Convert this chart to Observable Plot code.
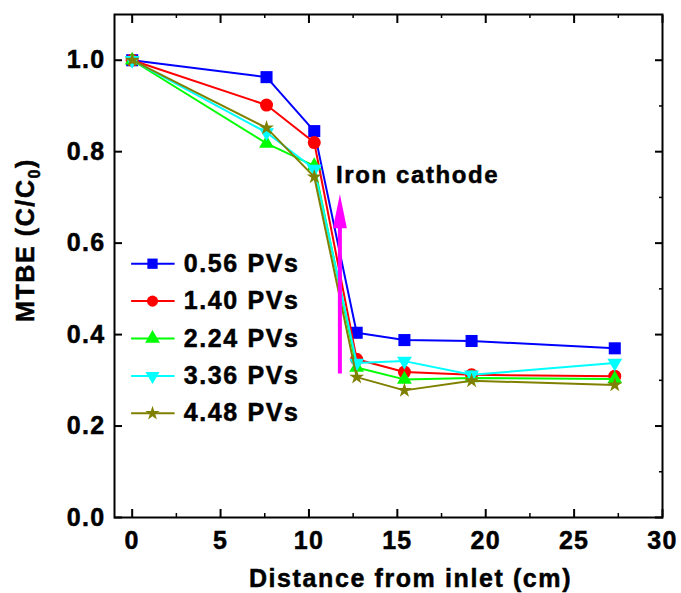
<!DOCTYPE html>
<html>
<head>
<meta charset="utf-8">
<script src="https://cdn.jsdelivr.net/npm/d3@7"></script>
<script src="https://cdn.jsdelivr.net/npm/@observablehq/plot@0.6"></script>
<style>
  html, body { margin: 0; padding: 0; background: #fff; }
  #chart svg { display: block; }
  #chart svg text { letter-spacing: 1.6px; stroke: #000; stroke-width: 0.5px; }
  #chart svg [aria-label="annotation"] text { letter-spacing: 0; }
  #chart svg [aria-label="y-axis tick label"] text,
  #chart svg [aria-label="x-axis tick label"] text { letter-spacing: 1.3px; }
</style>
</head>
<body>
<div id="chart"></div>
<script>
// ---- data ----
const distances = [0, 7.6, 10.3, 12.7, 15.4, 19.2, 27.3];
const pvLabels = ["0.56 PVs", "1.40 PVs", "2.24 PVs", "3.36 PVs", "4.48 PVs"];
const mtbe056 = [1.0, 0.963, 0.845, 0.404, 0.388, 0.386, 0.370];
const mtbe140 = [1.0, 0.902, 0.820, 0.346, 0.318, 0.312, 0.309];
const mtbe224 = [1.0, 0.818, 0.769, 0.328, 0.302, 0.305, 0.303];
const mtbe336 = [1.0, 0.842, 0.762, 0.338, 0.342, 0.312, 0.338];
const mtbe448 = [1.0, 0.852, 0.745, 0.307, 0.278, 0.299, 0.290];
const xTicks = [0, 5, 10, 15, 20, 25, 30];
const xMinorTicks = [2.5, 7.5, 12.5, 17.5, 22.5, 27.5];
const yTicks = [0, 0.2, 0.4, 0.6, 0.8, 1.0];
const yMinorTicks = [0.1, 0.3, 0.5, 0.7, 0.9];
const cathode = {label: "Iron cathode", x: 11.75, yFrom: 0.314, yTo: 0.707};

// ---- styling ----
const colors = ["#0000ff", "#ff0000", "#00ff00", "#00ffff", "#808000"];
const triangleDown = {
  draw(ctx, size) {
    const y = -Math.sqrt(size / (Math.sqrt(3) * 3));
    ctx.moveTo(0, -y * 2);
    ctx.lineTo(-Math.sqrt(3) * y, y);
    ctx.lineTo(Math.sqrt(3) * y, y);
    ctx.closePath();
  }
};
const arrowHead = {
  draw(ctx) {
    ctx.moveTo(0, 0);
    ctx.lineTo(7, 34);
    ctx.lineTo(-7, 34);
    ctx.closePath();
  }
};
const symbols = ["square", "circle", "triangle", triangleDown, "star"];
const radii = [6.8, 6.5, 5.5, 5.5, 4.7];
const legendRadii = [5.8, 5.6, 5.5, 5.2, 4.5];

const allValues = [mtbe056, mtbe140, mtbe224, mtbe336, mtbe448];
const series = pvLabels.map((label, i) => ({
  label, color: colors[i], symbol: symbols[i], r: radii[i], lr: legendRadii[i],
  rows: distances.map((x, j) => ({x, y: allValues[i][j]}))
}));

// legend layout (in data units of the plot)
const legTop = 0.555, legStep = 0.0818;
const legX1 = -0.06, legX2 = 2.4, legXm = 1.15, legXt = 2.92;

const marks = [];
series.forEach(s => {
  marks.push(Plot.line(s.rows, {x: "x", y: "y", stroke: s.color, strokeWidth: 2}));
  marks.push(Plot.dot(s.rows, {x: "x", y: "y", fill: s.color, symbol: s.symbol, r: s.r}));
});
series.forEach((s, i) => {
  const ly = legTop - i * legStep;
  marks.push(Plot.link([s], {x1: () => legX1, x2: () => legX2, y1: () => ly, y2: () => ly, stroke: s.color, strokeWidth: 2}));
  marks.push(Plot.dot([s], {x: () => legXm, y: () => ly, fill: s.color, symbol: s.symbol, r: s.lr}));
  marks.push(Plot.text([s], {x: () => legXt, y: () => ly, text: "label", textAnchor: "start", lineAnchor: "middle", fontSize: 25, fontWeight: "bold", fill: "black"}));
});

const tickOnly = {fill: "none", label: null};

const chart = Plot.plot({
  width: 681,
  height: 593,
  marginLeft: 114,
  marginRight: 19,
  marginTop: 14,
  marginBottom: 76,
  x: {domain: [-1, 30]},
  y: {domain: [0, 1.1]},
  style: {fontFamily: "'Liberation Sans', Arial, sans-serif", fontWeight: "bold", fontSize: "25px", background: "#fff", color: "black", overflow: "visible"},
  marks: [
    ...marks,
    Plot.ruleX([cathode], {x: "x", y1: "yFrom", y2: d => d.yTo - 0.03, stroke: "#ff00ff", strokeWidth: 4}),
    Plot.dot([cathode], {x: "x", y: "yTo", symbol: arrowHead, fill: "#ff00ff", r: 3}),
    Plot.text([cathode], {x: () => 11.53, y: () => 0.748, text: "label", textAnchor: "start", lineAnchor: "middle", fontSize: 24, fontWeight: "bold", fill: "black", ariaLabel: "annotation"}),
    // frame
    Plot.frame({stroke: "black", strokeWidth: 2}),
    // tick labels
    Plot.axisX({anchor: "bottom", ticks: xTicks, tickSize: 0, tickPadding: 14, tickFormat: d => String(d), label: null, fontSize: 25}),
    Plot.axisY({anchor: "left", ticks: yTicks, tickSize: 0, tickPadding: 9, tickFormat: d3.format(".1f"), label: null, fontSize: 25}),
    // inward ticks
    Plot.axisX({anchor: "bottom", ticks: xTicks, tickSize: -8, strokeWidth: 2, ...tickOnly}),
    Plot.axisX({anchor: "bottom", ticks: xMinorTicks, tickSize: -4, strokeWidth: 1.5, ...tickOnly}),
    Plot.axisX({anchor: "top", ticks: xTicks, tickSize: -8, strokeWidth: 2, ...tickOnly}),
    Plot.axisX({anchor: "top", ticks: xMinorTicks, tickSize: -3, strokeWidth: 1.5, ...tickOnly}),
    Plot.axisY({anchor: "left", ticks: yTicks, tickSize: -8, strokeWidth: 2, ...tickOnly}),
    Plot.axisY({anchor: "right", ticks: yTicks, tickSize: -8, strokeWidth: 2, ...tickOnly}),
    Plot.axisY({anchor: "right", ticks: yMinorTicks, tickSize: -4, strokeWidth: 1.5, ...tickOnly}),
    // x title
    Plot.text(["Distance from inlet (cm)"], {frameAnchor: "bottom", dx: 22, dy: 69.7, lineAnchor: "bottom", fontSize: 25, fontWeight: "bold", fill: "black"})
  ]
});

// y title with subscript
const svg = d3.select(chart);
const yt = svg.append("text")
  .attr("transform", "translate(25,240) rotate(-90)")
  .attr("text-anchor", "middle")
  .attr("dy", "0.35em")
  .attr("font-size", 25)
  .attr("font-weight", "bold")
  .attr("fill", "black");
yt.append("tspan").text("MTBE (C/C");
yt.append("tspan").attr("font-size", 16).attr("dy", 6).text("0");
yt.append("tspan").attr("dy", -6).text(")");

document.getElementById("chart").append(chart);
</script>
</body>
</html>
